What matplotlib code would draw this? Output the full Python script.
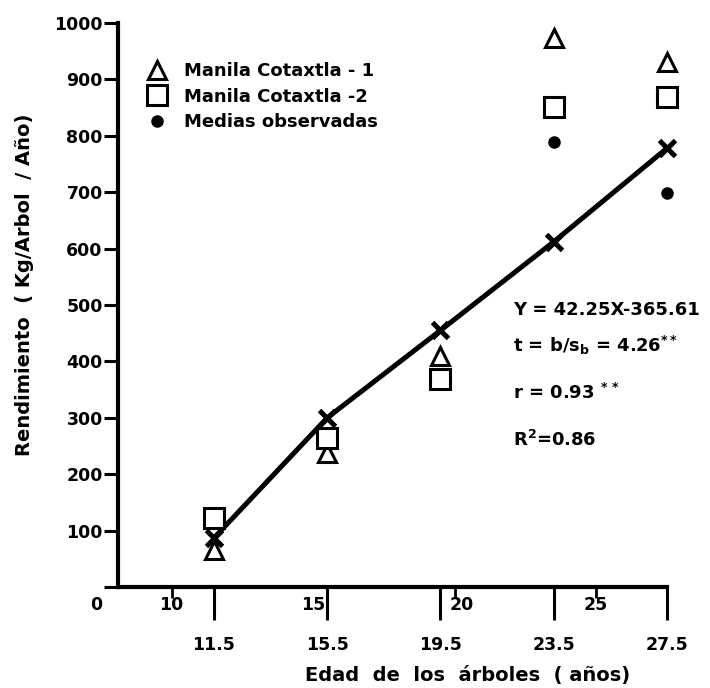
import matplotlib.pyplot as plt
from matplotlib.lines import Line2D

# Edad de los arboles (anos) y rendimiento (kg/arbol/ano)
edad = [11.5, 15.5, 19.5, 23.5, 27.5]
cotaxtla_1 = [66, 237, 410, 973, 931]
cotaxtla_2 = [122, 264, 368, 851, 869]
estimado = [87, 300, 455, 612, 778]
medias_edad = [23.5, 27.5]
medias_obs = [789, 699]

edad_labels = ["11.5", "15.5", "19.5", "23.5", "27.5"]
edad_ref = [10, 15, 20, 25]
y_ticks = list(range(0, 1001, 100))

plt.rcParams["font.family"] = "DejaVu Sans"
plt.rcParams["font.weight"] = "bold"

fig = plt.figure(figsize=(7.1, 6.88), dpi=100)
ax = fig.add_axes([0.1662, 0.1468, 0.7732, 0.8198])

# recta de regresion y valores estimados
ax.plot(edad, estimado, color="black", lw=3.6, solid_capstyle="round", zorder=2)
ax.plot(edad, estimado, "x", color="black", ms=11, mew=3.6, zorder=3, clip_on=False)

tri = dict(ls="none", marker="^", ms=12.5, mfc="white", mec="black", mew=2.2)
sq = dict(ls="none", marker="s", ms=15, mfc="white", mec="black", mew=2.2)
dot = dict(ls="none", marker="o", ms=8, color="black")

ax.plot(edad, cotaxtla_1, zorder=4, clip_on=False, **tri)
ax.plot(edad, cotaxtla_2, zorder=4, clip_on=False, **sq)
ax.plot(medias_edad, medias_obs, zorder=4, clip_on=False, **dot)

ax.set_xlim(8.11, 27.5)
ax.set_ylim(0, 1000)

for s in ["top", "right"]:
    ax.spines[s].set_visible(False)
ax.spines["left"].set_linewidth(3)
ax.spines["bottom"].set_linewidth(3)

ax.set_yticks(y_ticks)
ax.set_yticklabels([""] + [str(v) for v in y_ticks[1:]])
ax.tick_params(axis="y", length=10, width=2.2, pad=1, labelsize=12.5)

ax.set_xticks(edad)
ax.set_xticklabels(edad_labels)
ax.set_xticks([10, 20, 25], minor=True)
ax.tick_params(axis="x", which="major", length=24, width=2.2, pad=11, labelsize=12.5)
ax.tick_params(axis="x", which="minor", length=8, width=2)

# escala secundaria de edad
for v in edad_ref:
    off = {10: 0, 15: 0, 20: 0.25, 25: 0}[v]
    ax.text(v + off, -0.032, str(v), transform=ax.get_xaxis_transform(),
            ha="center", va="center", fontsize=12.5, fontweight="bold")
fig.text(96 / 710, 1 - 605 / 688, "0", ha="center", va="center",
         fontsize=12.5, fontweight="bold")

handles = [Line2D([], [], **tri), Line2D([], [], **sq), Line2D([], [], **dot)]
ax.legend(handles, ["Manila Cotaxtla - 1", "Manila Cotaxtla -2", "Medias observadas"],
          loc="upper left", bbox_to_anchor=(146 / 710, 1 - 62 / 688),
          bbox_transform=fig.transFigure, frameon=False, borderpad=0,
          borderaxespad=0, handlelength=1.2, handletextpad=0.9,
          labelspacing=0.42, prop={"size": 13, "weight": "bold"})

stats = [
    (310, "Y = 42.25X-365.61"),
    (345, r"t = b/s$_\mathbf{b}$ = 4.26$^{\mathbf{**}}$"),
    (393, r"r = 0.93 $^{\mathbf{*\,*}}$"),
    (440, r"R$^\mathbf{2}$=0.86"),
]
for ypx, txt in stats:
    fig.text(513 / 710, 1 - ypx / 688, txt, ha="left", va="center",
             fontsize=13, fontweight="bold")

fig.text(25 / 710, 1 - 285 / 688, "Rendimiento  ( Kg/Arbol  / Año)",
         rotation=90, ha="center", va="center", fontsize=14, fontweight="bold")
fig.text(468 / 710, 1 - 675 / 688, "Edad  de  los  árboles  ( años)",
         ha="center", va="center", fontsize=14, fontweight="bold")

fig.savefig("out.png", dpi=100)
